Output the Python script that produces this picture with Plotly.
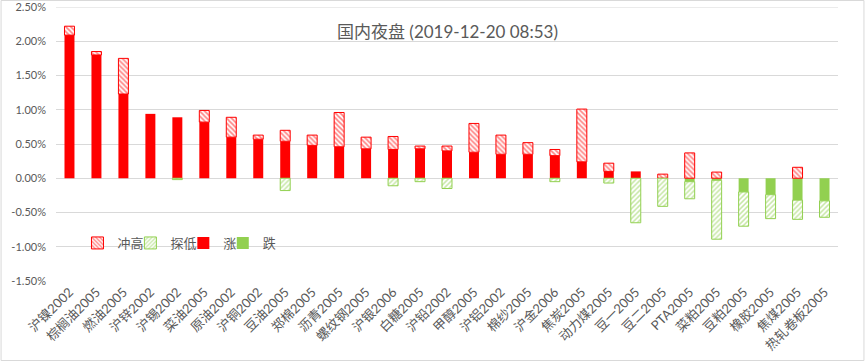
import plotly.graph_objects as go

categories = ["沪镍2002", "棕榈油2005", "燃油2005", "沪锌2002", "沪锡2002", "菜油2005", "原油2002",
              "沪铜2002", "豆油2005", "郑棉2005", "沥青2005", "螺纹钢2005", "沪银2006", "白糖2005",
              "沪铅2002", "甲醇2005", "沪铝2002", "棉纱2005", "沪金2006", "焦炭2005", "动力煤2005",
              "豆一2005", "豆二2005", "PTA2005", "菜粕2005", "豆粕2005", "橡胶2005", "焦煤2005",
              "热轧卷板2005"]

# values in percent
rise = [2.09, 1.80, 1.23, 0.94, 0.89, 0.82, 0.60, 0.57, 0.54, 0.48, 0.46, 0.43, 0.42, 0.43,
        0.40, 0.38, 0.35, 0.35, 0.33, 0.24, 0.10, 0.10, 0, 0, 0, 0, 0, 0, 0]
high_ext = [0.13, 0.05, 0.52, 0, 0, 0.17, 0.29, 0.06, 0.16, 0.15, 0.50, 0.17, 0.19, 0.04,
            0.07, 0.42, 0.28, 0.17, 0.09, 0.77, 0.12, 0, 0.06, 0.37, 0.09, 0, 0, 0.16, 0]
fall = [0, 0, 0, 0, 0, 0, 0, 0, 0, 0, 0, 0, 0, 0, 0, 0, 0, 0, 0, 0, 0, 0, 0,
        -0.05, -0.03, -0.20, -0.24, -0.32, -0.33]
low_ext = [0, 0, 0, 0, -0.02, 0, 0, 0, -0.18, 0, 0, 0, -0.11, -0.05, -0.15, 0, 0, 0, -0.05,
           0, -0.07, -0.65, -0.41, -0.25, -0.86, -0.50, -0.35, -0.28, -0.24]

y_ticks = [-1.5, -1.0, -0.5, 0.0, 0.5, 1.0, 1.5, 2.0, 2.5]
title_text = "国内夜盘 (2019-12-20 08:53)"

RED = "#FF0000"
GREEN = "#92D050"
GREY_TXT = "#595959"
GRID = "#D9D9D9"
FONT = "Lato, 'Noto Sans CJK SC', sans-serif"

L, R, T, B = 55.5, 28.5, 7, 81
W, H = 867, 362
pw, ph = W - L - R, H - T - B


def px_x(x):
    return (x - L) / pw


def px_y(y):
    return 1 - (y - T) / ph


def nz(vals):
    return [v if v else None for v in vals]


hatch_high = dict(color="white", line=dict(color=RED, width=1),
                  pattern=dict(shape="\\", fgcolor=RED, bgcolor="white", size=3.5, solidity=0.45))
hatch_low = dict(color="white", line=dict(color=GREEN, width=1),
                 pattern=dict(shape="/", fgcolor=GREEN, bgcolor="white", size=3.5, solidity=0.45))

fig = go.Figure()
fig.add_trace(go.Bar(name="涨", x=categories, y=nz(rise), marker=dict(color=RED, line=dict(width=0)),
                     legend="legend3"))
fig.add_trace(go.Bar(name="跌", x=categories, y=nz(fall), marker=dict(color=GREEN, line=dict(width=0)),
                     legend="legend4"))
fig.add_trace(go.Bar(name="冲高", x=categories, y=nz(high_ext), marker=hatch_high, legend="legend"))
fig.add_trace(go.Bar(name="探低", x=categories, y=nz(low_ext), marker=hatch_low, legend="legend2"))

leg_common = dict(orientation="h", xanchor="left", yanchor="middle", y=px_y(243),
                  font=dict(size=13, color=GREY_TXT), bgcolor="rgba(0,0,0,0)", itemwidth=30)

fig.update_layout(
    width=W, height=H,
    margin=dict(l=L, r=R, t=T, b=B, pad=0, autoexpand=False),
    barmode="relative",
    bargap=0.63,
    plot_bgcolor="white",
    paper_bgcolor="white",
    font=dict(family=FONT, color=GREY_TXT, size=12),
    showlegend=True,
    legend=dict(x=px_x(77), **leg_common),
    legend2=dict(x=px_x(130), **leg_common),
    legend3=dict(x=px_x(183), **leg_common),
    legend4=dict(x=px_x(222.5), **leg_common),
    xaxis=dict(type="category", tickangle=-45, showgrid=False, showline=False, ticks="",
               tickfont=dict(size=13, color=GREY_TXT), zeroline=False, automargin=False),
    yaxis=dict(range=[-1.5003, 2.5003], tickvals=y_ticks, ticktext=[f"{v:.2f}%" for v in y_ticks],
               showgrid=True, gridcolor=GRID, gridwidth=1, zeroline=True, zerolinecolor=GRID,
               zerolinewidth=1, showline=False, ticks="", automargin=False,
               ticklabelstandoff=9,
               ticklabeloverflow="allow", tickfont=dict(size=11, color=GREY_TXT)),
    annotations=[dict(text=title_text, x=0.5, y=px_y(31), xref="paper", yref="paper",
                      xanchor="center", yanchor="middle", showarrow=False,
                      font=dict(size=17, color=GREY_TXT))],
    shapes=[
        dict(type="rect", xref="paper", yref="paper", x0=px_x(0.5), x1=px_x(864.5),
             y0=px_y(360.5), y1=px_y(0.5), line=dict(color=GRID, width=1), layer="below"),
        dict(type="line", xref="paper", yref="y", x0=0, x1=1, y0=y_ticks[-1], y1=y_ticks[-1],
             line=dict(color=GRID, width=1), layer="below"),
    ],
)

fig.write_html("out.html", config={"displayModeBar": False},
               post_script="document.body.style.margin='0';")
